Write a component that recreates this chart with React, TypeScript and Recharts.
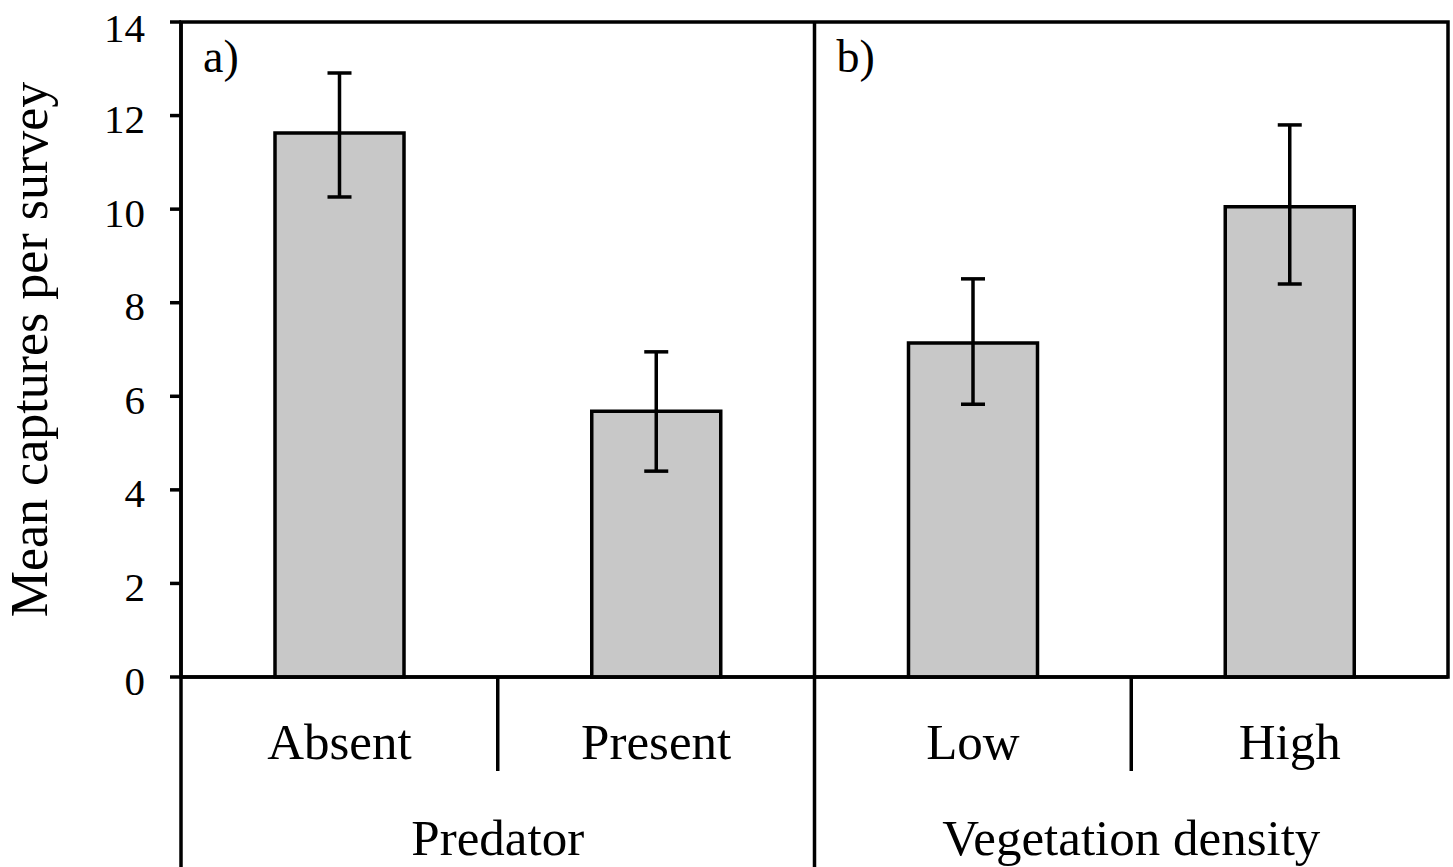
import React from 'react';
import { BarChart, Bar, XAxis, YAxis, ErrorBar, Label, ReferenceArea } from 'recharts';

const categories = ['Absent', 'Present', 'Low', 'High'];
const means = [11.63, 5.68, 7.14, 10.05];
const errLow = [1.37, 1.28, 1.31, 1.65];
const errHigh = [1.28, 1.27, 1.37, 1.75];
const groups = ['Predator', 'Vegetation density'];
const panels = ['a)', 'b)'];
const yTicks = [0, 2, 4, 6, 8, 10, 12, 14];

const data = categories.map((name, i) => ({
    name,
    mean: means[i],
    err: [errLow[i], errHigh[i]],
}));

const W = 1453;
const H = 867;
const MARGIN = { top: 22, right: 5, bottom: 0, left: 0 };
const Y_AXIS_W = 181;
const X_AXIS_H = 190;
const PLOT_W = W - MARGIN.left - MARGIN.right - Y_AXIS_W;
const PLOT_H = H - MARGIN.top - MARGIN.bottom - X_AXIS_H;
const HALF_BAND = PLOT_W / categories.length / 2;

const FONT = '"Liberation Serif", "Times New Roman", serif';
const LINE = 3.5;

const CategoryTick = ({ x, y, payload, index }: any) => {
    const group = Math.floor(index / 2);
    const first = index % 2 === 0;
    return (
        <g>
            <text x={x} y={y + 82} textAnchor="middle" fontSize={51} fontFamily={FONT} fill="#000">
                {payload.value}
            </text>
            {index === 0 && (
                <line x1={x - HALF_BAND} y1={y - 1} x2={x - HALF_BAND} y2={y + X_AXIS_H} stroke="#000" strokeWidth={LINE} />
            )}
            {first && (
                <line x1={x + HALF_BAND} y1={y} x2={x + HALF_BAND} y2={y + 94} stroke="#000" strokeWidth={LINE} />
            )}
            {index === 1 && (
                <line x1={x + HALF_BAND} y1={y - PLOT_H} x2={x + HALF_BAND} y2={y + X_AXIS_H} stroke="#000" strokeWidth={LINE} />
            )}
            {first && (
                <text x={x + HALF_BAND} y={y + 178} textAnchor="middle" fontSize={51} fontFamily={FONT} fill="#000">
                    {groups[group]}
                </text>
            )}
            {first && (
                <text x={x - HALF_BAND + 22} y={y - PLOT_H + 50} fontSize={46} fontFamily={FONT} fill="#000">
                    {panels[group]}
                </text>
            )}
        </g>
    );
};

export default function App() {
    return (
        <div style={{ position: 'absolute', left: 0, top: 0, background: '#fff', fontFamily: FONT }}>
            <BarChart width={W} height={H} data={data} margin={MARGIN}>
                <ReferenceArea
                    x1="Absent"
                    x2="High"
                    y1={0}
                    y2={14}
                    fill="none"
                    stroke="#000"
                    strokeWidth={LINE}
                    ifOverflow="visible"
                />
                <XAxis
                    dataKey="name"
                    height={X_AXIS_H}
                    interval={0}
                    tickLine={false}
                    tickSize={0}
                    tickMargin={0}
                    axisLine={{ stroke: '#000', strokeWidth: LINE }}
                    tick={<CategoryTick />}
                />
                <YAxis
                    type="number"
                    domain={[0, 14]}
                    ticks={yTicks}
                    width={Y_AXIS_W}
                    tickSize={11}
                    tickMargin={25}
                    axisLine={{ stroke: '#000', strokeWidth: LINE }}
                    tickLine={{ stroke: '#000', strokeWidth: LINE }}
                    tick={{ fill: '#000', fontSize: 41, fontFamily: FONT, dy: 3 }}
                >
                    <Label
                        content={() => (
                            <text
                                x={47}
                                y={MARGIN.top + PLOT_H / 2}
                                transform={`rotate(-90 47 ${MARGIN.top + PLOT_H / 2})`}
                                textAnchor="middle"
                                fontSize={52}
                                fontFamily={FONT}
                                fill="#000"
                            >
                                Mean captures per survey
                            </text>
                        )}
                    />
                </YAxis>
                <Bar
                    dataKey="mean"
                    barSize={129}
                    fill="#c8c8c8"
                    stroke="#000"
                    strokeWidth={LINE}
                    isAnimationActive={false}
                >
                    <ErrorBar dataKey="err" width={12} stroke="#000" strokeWidth={LINE} isAnimationActive={false} />
                </Bar>
            </BarChart>
        </div>
    );
}
